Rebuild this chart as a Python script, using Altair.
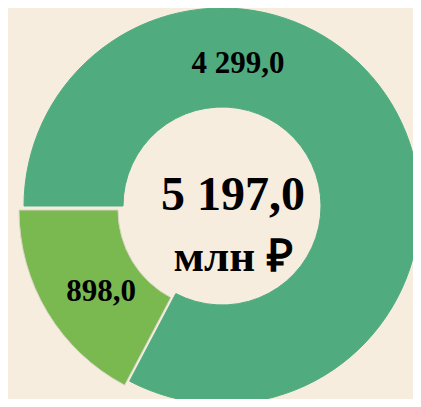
import altair as alt
import pandas as pd

categories = ["big", "small"]
values = [4299.0, 898.0]
labels = ["4 299,0", "898,0"]
colors = ["#50ac7f", "#7ab850"]
strokes = ["#50ac7f", "#d8d6c4"]
order = [1, 2]

df = pd.DataFrame({"cat": categories, "value": values, "label": labels, "ord": order})

CX, CY = 214, 198
R_OUT, R_IN = 198, 99
START = 4.712389

theta_scale = alt.Scale(range=[START, START + 6.283185])

donut = alt.Chart(df).transform_calculate(
    px=f"datum.cat == 'small' ? {CX - 5} : {CX}",
    py=f"datum.cat == 'small' ? {CY + 4} : {CY}",
).mark_arc(radius=R_OUT, radius2=R_IN, strokeWidth=1).encode(
    theta=alt.Theta("value:Q", stack=True, scale=theta_scale),
    order=alt.Order("ord:Q", sort="ascending"),
    color=alt.Color("cat:N", scale=alt.Scale(domain=categories, range=colors), legend=None),
    stroke=alt.Stroke("cat:N", scale=alt.Scale(domain=categories, range=strokes), legend=None),
    x=alt.X("px:Q", scale=None),
    y=alt.Y("py:Q", scale=None),
)

font = "Liberation Serif"

t_big = alt.Chart(df).transform_filter(alt.datum.cat == "big").mark_text(
    font=font, fontWeight="bold", fontSize=31, color="#000000"
).encode(text="label:N", x=alt.value(230), y=alt.value(56))

t_small = alt.Chart(df).transform_filter(alt.datum.cat == "small").mark_text(
    font=font, fontWeight="bold", fontSize=31, color="#000000"
).encode(text="label:N", x=alt.value(93), y=alt.value(284))

total_df = pd.DataFrame({"t": ["5 197,0", "млн ₽"], "yy": [188, 249], "fs": [48, 45]})
t_total = alt.Chart(total_df).mark_text(
    font=font, fontWeight="bold", color="#000000"
).encode(
    text="t:N",
    x=alt.value(225),
    y=alt.Y("yy:Q", scale=None),
    size=alt.Size("fs:Q", scale=None, legend=None),
)

chart = alt.layer(donut, t_big, t_small, t_total).properties(
    width=405, height=391, padding=0, autosize=alt.AutoSizeParams(type="none"),
    background="#f7eddf",
).configure_view(stroke=None)

chart.save("out.html", embed_options={"renderer": "svg", "actions": False})
